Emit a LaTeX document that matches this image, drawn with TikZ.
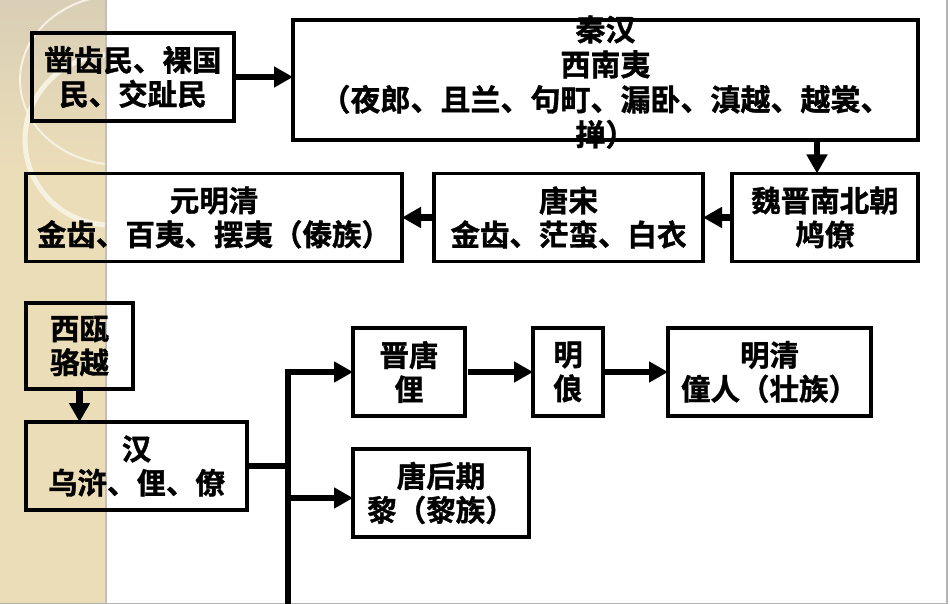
\documentclass[tikz,border=0pt]{standalone}
\usepackage{fontspec}
\usetikzlibrary{arrows.meta,positioning}
\newfontfamily\cjk{Noto Sans CJK SC Bold}[FakeBold=1.2]
\definecolor{stripbeige}{HTML}{EBDDB8}
\definecolor{stripdark}{HTML}{D9CFB6}
\definecolor{stripring}{HTML}{F7F1E2}

\begin{document}
\begin{tikzpicture}[x=1pt, y=-1pt,
	box/.style={draw, line width=3.2pt, outer sep=0pt, inner sep=0pt, align=center,
		minimum height=88pt, font=\cjk\fontsize{29.5}{34}\selectfont},
	arr/.style={line width=6.5pt, -{Triangle[length=19pt, width=20pt]}},
	bar/.style={line width=6.5pt}]
	\useasboundingbox (0,0) rectangle (950,604);
	% left strip
	\begin{scope}
	\clip (0,0) rectangle (105,604);
	\fill[stripbeige] (0,0) rectangle (105,604);
	\shade[top color=stripdark, bottom color=stripbeige] (0,0) rectangle (105,170);
	\draw[stripring, line width=2pt] (120,80) ellipse [x radius=100pt, y radius=85pt];
	\draw[stripring, line width=5pt] (110,140) circle [radius=85pt];
	\end{scope}
	\draw[black!25, line width=2pt] (106,0) -- (106,604);
	\draw[gray!60, line width=1.2pt] (0,603.4) -- (947,603.4) -- (947,0);
	
	\node[box, minimum width=202pt] (zaochi) at (133,77) {凿齿民、裸国\\民、交趾民};
	\node[box, minimum width=625pt, minimum height=120pt] (qinhan) at (605.5,80) {};
	\node[align=center, font=\cjk\fontsize{30}{35}\selectfont] (qinhantext) at ([yshift=-2pt]qinhan.center)
		{秦汉\\西南夷\\（夜郎、且兰、句町、漏卧、滇越、越裳、\\掸）};
	\node[box, minimum width=186pt] (weijin) at (825,217.5) {魏晋南北朝\\鸠僚};
	\node[box, minimum width=269pt, left=29pt of weijin] (tangsong) {唐宋\\金齿、茫蛮、白衣};
	\node[box, minimum width=376pt, left=32pt of tangsong] (yuanming) {元明清\\金齿、百夷、摆夷（傣族）};
	
	\node[box, minimum width=107pt, minimum height=86pt] (xiou) at (79.5,346) {西瓯\\骆越};
	\node[box, minimum width=221pt, below=33pt of xiou.south west, anchor=north west] (han) {汉\\乌浒、俚、僚};
	\node[box, minimum width=112pt] (jintang) at (409,372) {晋唐\\俚};
	\node[box, minimum width=70pt, right=68pt of jintang] (ming) {明\\俍};
	\node[box, minimum width=203pt, right=65pt of ming] (mingqing) {明清\\僮人（壮族）};
	\node[box, minimum width=176pt, below=33pt of jintang.south west, anchor=north west] (lihou) {唐后期\\黎（黎族）};
	\coordinate (trunk) at (288,604);
	
	\draw[arr] (zaochi.east) -- (zaochi.east -| qinhan.west);
	\draw[arr] ([xshift=-8pt]weijin.north |- qinhan.south) -- ([xshift=-8pt]weijin.north);
	\draw[arr] (weijin.west) -- (tangsong.east);
	\draw[arr] (tangsong.west) -- (yuanming.east);
	\draw[arr] (xiou.south) -- (xiou.south |- han.north);
	\draw[bar] (han.east) -- (han.east -| trunk);
	\draw[arr] (trunk) |- (jintang.west);
	\draw[arr] ([yshift=-5pt]trunk |- lihou.west) -- ([yshift=-5pt]lihou.west);
	\draw[arr, shorten <=3pt] (jintang.east) -- (ming.west);
	\draw[arr] (ming.east) -- (mingqing.west);
\end{tikzpicture}
\end{document}
